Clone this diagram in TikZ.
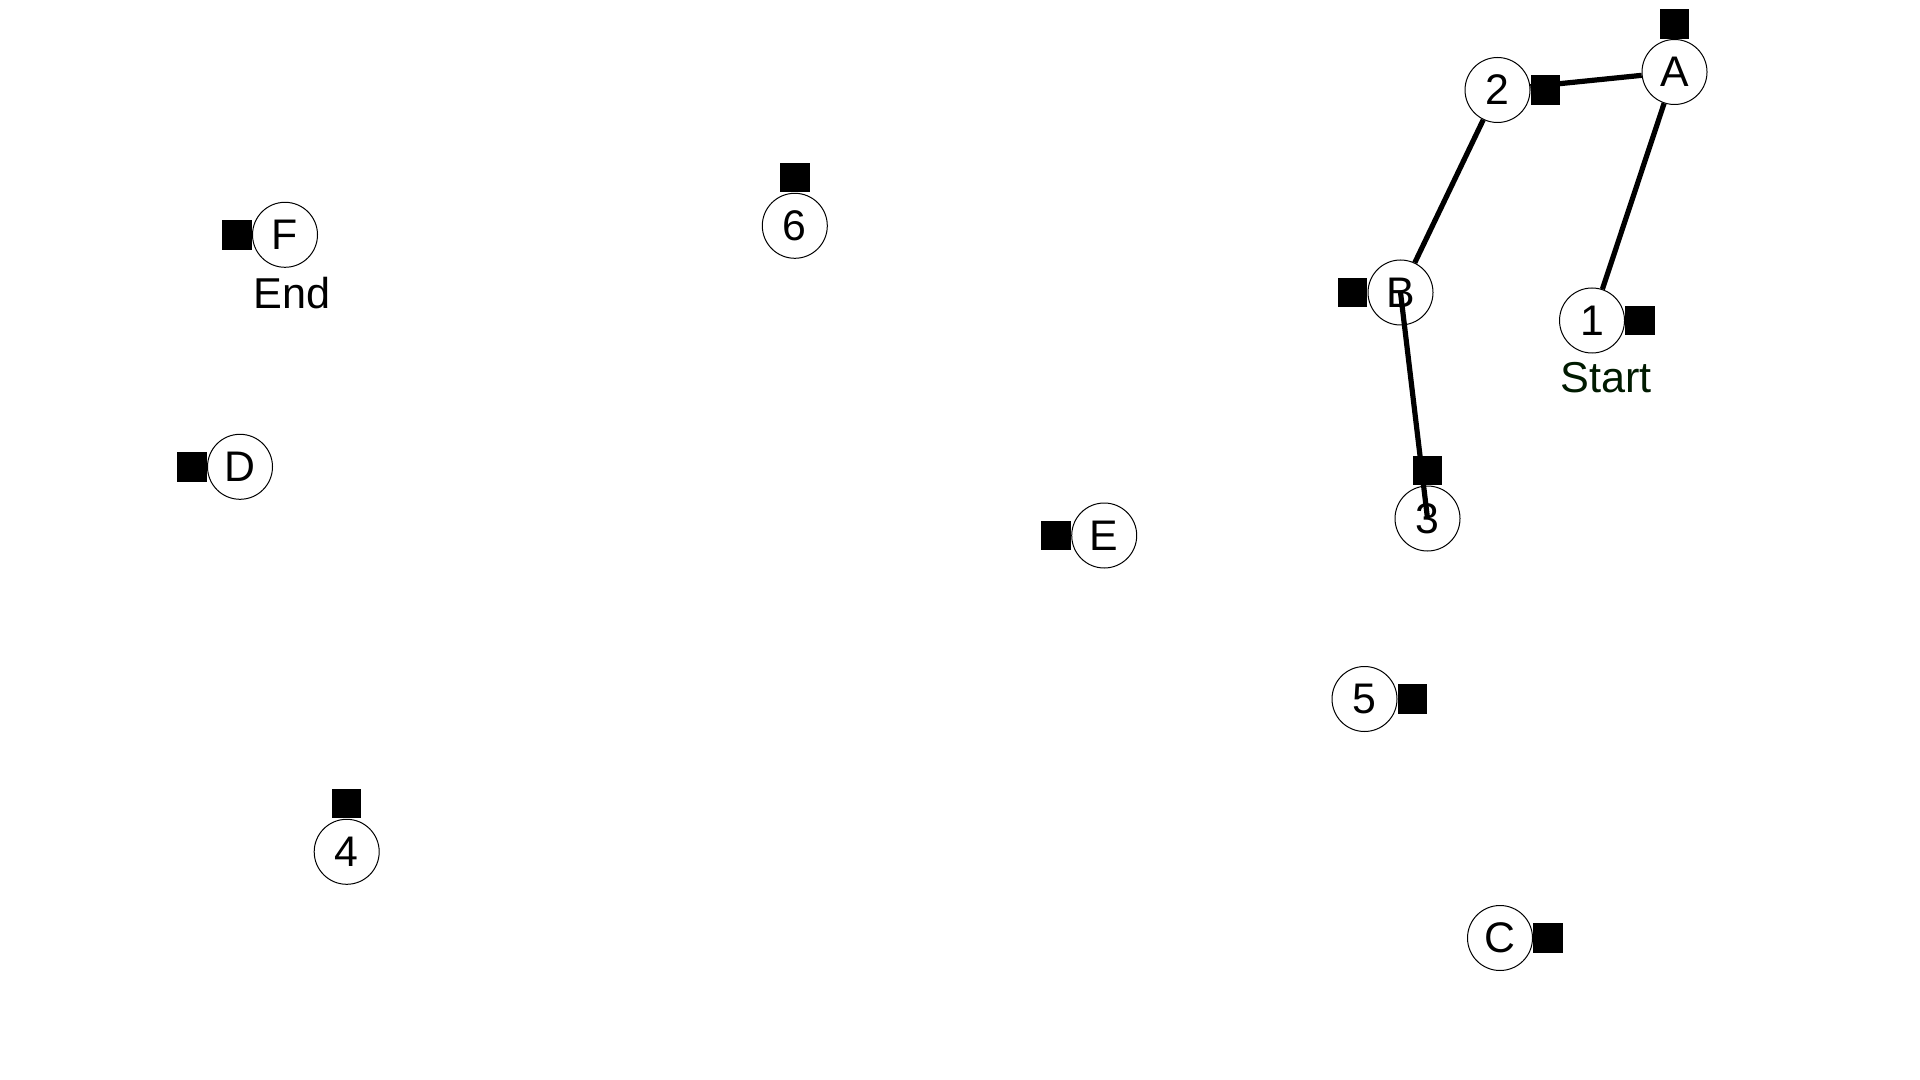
\documentclass[tikz,border=0pt]{standalone}
\usepackage{fontspec}
\setmainfont{Liberation Sans}
\usetikzlibrary{positioning}
\definecolor{startgreen}{RGB}{0,26,0}

\tikzset{
  station/.style={circle,draw,fill=white,line width=0.5pt,minimum size=32.5pt,inner sep=0pt,font=\fontsize{21.4}{24}\selectfont},
  blk/.style={rectangle,fill=black,minimum size=14.75pt,inner sep=0pt},
  route/.style={line width=2.6pt},
  tag/.style={inner sep=0pt,anchor=north west,font=\fontsize{21.6}{24}\selectfont}
}

\begin{document}
\begin{tikzpicture}[x=0.5pt,y=-0.5pt]
                \useasboundingbox (0,0) rectangle (1920,1080);

                \node[station] (A) at (1674.5,72) {A};
                \node[station] (B) at (1400.5,292.5) {B};
                \node[station] (C) at (1500,938) {C};
                \node[station] (D) at (240,466.8) {D};
                \node[station] (E) at (1104.2,535.5) {E};
                \node[station] (F) at (285,234.8) {F};
                \node[station] (n1) at (1592,320.5) {1};
                \node[station] (n2) at (1497.5,90) {2};
                \node[station] (n3) at (1427.5,518.5) {3};
                \node[station] (n4) at (346.7,851.8) {4};
                \node[station] (n5) at (1364.5,699) {5};
                \node[station] (n6) at (794.8,225.8) {6};

                \node[blk,above=0pt of A] (sqA) {};
                \node[blk,left=0pt of B] (sqB) {};
                \node[blk,right=0pt of C] (sqC) {};
                \node[blk,left=0pt of D] (sqD) {};
                \node[blk,left=0pt of E] (sqE) {};
                \node[blk,left=0pt of F] (sqF) {};
                \node[blk,right=0pt of n1] (sq1) {};
                \node[blk,right=0pt of n2] (sq2) {};
                \node[blk,above=0pt of n3] (sq3) {};
                \node[blk,above=0pt of n4] (sq4) {};
                \node[blk,right=0pt of n5] (sq5) {};
                \node[blk,above=0pt of n6] (sq6) {};

                \node[tag,text=startgreen] (start) at ([xshift=0.5pt,yshift=-4pt]n1.west |- n1.south) {Start};
                \node[tag] (end) at ([xshift=0.5pt,yshift=-4.5pt]F.west |- F.south) {End};

                \draw[route] (n2) -- (A);
                \draw[route] (A) -- (n1);
                \draw[route] (n2) -- (B);
                \draw[route] (B.center) -- (n3.center);
            \end{tikzpicture}
\end{document}
